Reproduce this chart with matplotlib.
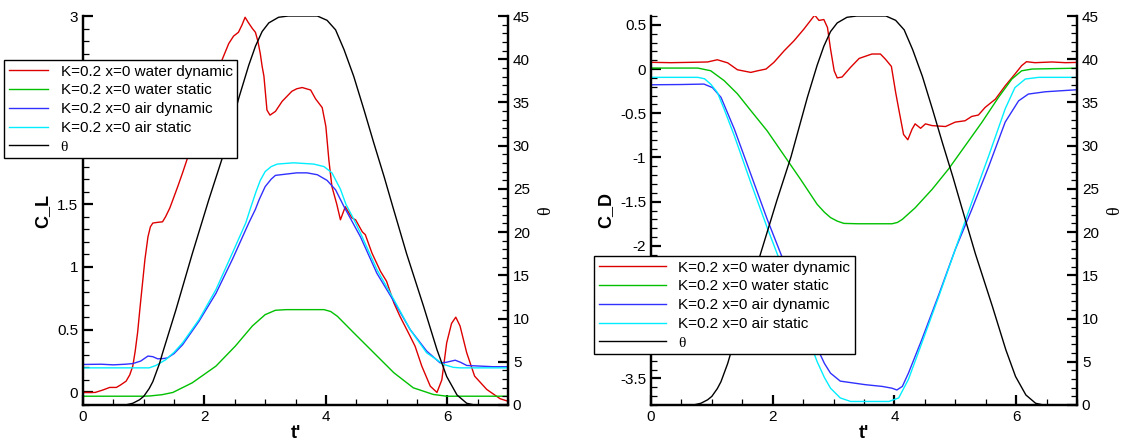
import numpy as np
import matplotlib
matplotlib.use("Agg")
import matplotlib.pyplot as plt
from matplotlib.ticker import MultipleLocator, FuncFormatter

# ==========================================
# DATA
# ==========================================

labels = [
    "K=0.2 x=0 water dynamic",
    "K=0.2 x=0 water static",
    "K=0.2 x=0 air dynamic",
    "K=0.2 x=0 air static",
    "\u03b8",
]

# theta (same motion in both panels)
t_theta = [0, 0.7, 0.82, 0.93, 1.0, 1.09, 1.15, 1.26, 1.31, 1.53, 1.80, 2.07,
           2.30, 2.57, 2.73, 2.84, 2.95, 3.06, 3.22, 3.38, 3.86, 4.02, 4.16,
           4.30, 4.46, 4.63, 4.79, 4.96, 5.10, 5.33, 5.61, 5.83, 5.99, 6.16,
           6.32, 6.45, 7.0]
theta = [0, 0, 0.2, 0.6, 1.0, 1.9, 2.7, 4.8, 6.0, 11.0, 17.5, 23.7,
         28.7, 35.6, 39.3, 41.5, 43.2, 44.2, 44.85, 45, 45, 44.5, 43.4,
         41.1, 38.0, 34.1, 30.3, 26.4, 23.0, 17.5, 11.4, 6.4, 3.3, 1.16,
         0.2, 0, 0]

# C_L water dynamic
t_cl_wd = [0, 0.2, 0.33, 0.44, 0.55, 0.62, 0.71, 0.77, 0.82, 0.86, 0.9, 0.94,
           0.98, 1.02, 1.07, 1.11, 1.15, 1.22, 1.31, 1.36, 1.43, 1.48, 1.56,
           1.64, 1.75, 2.0, 2.29, 2.40, 2.48, 2.56, 2.62, 2.67, 2.72, 2.79,
           2.84, 2.88, 2.92, 2.95, 2.98, 3.03, 3.08, 3.17, 3.28, 3.44, 3.52,
           3.61, 3.75, 3.83, 3.94, 4.0, 4.05, 4.10, 4.18, 4.24, 4.32, 4.43,
           4.49, 4.60, 4.65, 4.76, 4.90, 5.0, 5.12, 5.22, 5.36, 5.47, 5.58,
           5.72, 5.83, 5.91, 5.99, 6.07, 6.14, 6.21, 6.32, 6.45, 6.65, 6.87,
           7.0]
cl_wd = [0.0, 0.0, 0.02, 0.04, 0.04, 0.06, 0.09, 0.14, 0.21, 0.33, 0.48, 0.68,
         0.87, 1.06, 1.24, 1.32, 1.35, 1.355, 1.36, 1.40, 1.47, 1.535, 1.64,
         1.75, 1.91, 2.22, 2.65, 2.78, 2.84, 2.87, 2.93, 2.99, 2.95, 2.90,
         2.87, 2.80, 2.70, 2.60, 2.52, 2.25, 2.21, 2.24, 2.32, 2.40, 2.42,
         2.43, 2.41, 2.34, 2.27, 2.12, 1.85, 1.64, 1.50, 1.376, 1.48, 1.39,
         1.376, 1.28, 1.257, 1.11, 0.965, 0.886, 0.714, 0.607, 0.475, 0.368, 0.21,
         0.05, 0.0, 0.10, 0.395, 0.55, 0.60, 0.53, 0.316, 0.13, 0.024, -0.05,
         -0.07]

# C_L water static
t_cl_ws = [0, 0.98, 1.1, 1.3, 1.48, 1.8, 2.19, 2.51, 2.79, 3.0, 3.17, 3.35,
           3.97, 4.08, 4.19, 4.46, 4.79, 5.12, 5.44, 5.77, 5.99, 7.0]
cl_ws = [-0.03, -0.03, -0.028, -0.018, 0.0, 0.077, 0.21, 0.37, 0.53, 0.62, 0.655, 0.66,
         0.66, 0.645, 0.607, 0.475, 0.316, 0.157, 0.037, -0.016, -0.03, -0.03]

# C_L air dynamic
t_cl_ad = [0, 0.3, 0.5, 0.7, 0.82, 0.95, 1.07, 1.15, 1.23, 1.32, 1.39, 1.5,
           1.64, 1.91, 2.19, 2.46, 2.73, 2.84, 2.9, 3.0, 3.1, 3.17, 3.52,
           3.69, 3.86, 4.02, 4.16, 4.30, 4.57, 4.84, 5.12, 5.39, 5.66, 5.88,
           5.98, 6.13, 6.22, 6.32, 6.76, 7.0]
cl_ad = [0.223, 0.225, 0.22, 0.225, 0.23, 0.25, 0.29, 0.285, 0.268, 0.27, 0.275, 0.31,
         0.38, 0.567, 0.79, 1.06, 1.35, 1.46, 1.535, 1.64, 1.70, 1.73, 1.75,
         1.75, 1.735, 1.69, 1.615, 1.48, 1.24, 0.95, 0.726, 0.50, 0.33, 0.236,
         0.24, 0.257, 0.24, 0.215, 0.205, 0.205]

# C_L air static
t_cl_as = [0, 1.09, 1.2, 1.36, 1.5, 1.64, 1.91, 2.19, 2.46, 2.68, 2.76, 2.85,
           2.92, 3.0, 3.1, 3.2, 3.47, 3.8, 3.97, 4.10, 4.24, 4.33, 4.45, 4.57,
           4.84, 5.12, 5.39, 5.66, 5.94, 6.1, 6.21, 7.0]
cl_as = [0.196, 0.196, 0.215, 0.26, 0.32, 0.395, 0.58, 0.82, 1.11, 1.35, 1.47, 1.60,
         1.69, 1.76, 1.80, 1.82, 1.83, 1.82, 1.80, 1.75, 1.62, 1.50, 1.39, 1.27,
         0.98, 0.74, 0.50, 0.316, 0.223, 0.20, 0.196, 0.196]

# C_D water dynamic
t_cd_wd = [0, 0.33, 0.66, 0.93, 1.09, 1.26, 1.42, 1.64, 1.75, 1.89, 2.02, 2.19,
           2.35, 2.51, 2.62, 2.69, 2.76, 2.84, 2.90, 2.95, 3.01, 3.06, 3.14,
           3.28, 3.42, 3.52, 3.63, 3.77, 3.85, 3.95, 4.02, 4.07, 4.15, 4.22,
           4.29, 4.34, 4.43, 4.51, 4.62, 4.84, 5.0, 5.16, 5.27, 5.38, 5.49,
           5.66, 5.82, 5.98, 6.09, 6.17, 6.31, 6.59, 6.81, 7.0]
cd_wd = [0.076, 0.072, 0.076, 0.08, 0.105, 0.07, -0.008, -0.038, -0.02, 0.0, 0.076, 0.208,
         0.32, 0.45, 0.548, 0.61, 0.55, 0.56, 0.47, 0.227, -0.02, -0.1, -0.09,
         0.02, 0.12, 0.144, 0.17, 0.17, 0.113, 0.03, -0.264, -0.45, -0.74, -0.80,
         -0.68, -0.62, -0.67, -0.62, -0.64, -0.65, -0.6, -0.585, -0.536, -0.52, -0.434,
         -0.34, -0.19, -0.057, 0.038, 0.083, 0.072, 0.08, 0.072, 0.075]

# C_D water static
t_cd_ws = [0, 0.77, 0.98, 1.2, 1.42, 1.64, 1.91, 2.19, 2.46, 2.73, 2.85, 2.95,
           3.06, 3.17, 3.4, 3.96, 4.05, 4.13, 4.34, 4.62, 4.89, 5.16, 5.44,
           5.71, 5.93, 6.09, 6.26, 7.0]
cd_ws = [0.011, 0.011, -0.019, -0.13, -0.28, -0.47, -0.70, -0.98, -1.25, -1.53, -1.62, -1.68,
         -1.72, -1.746, -1.75, -1.75, -1.735, -1.70, -1.57, -1.36, -1.13, -0.87, -0.60,
         -0.32, -0.113, -0.02, 0.0, 0.01]

# C_D air dynamic
t_cd_ad = [0, 0.5, 0.87, 1.01, 1.15, 1.37, 1.64, 1.91, 2.19, 2.46, 2.73, 2.85,
           2.95, 3.11, 3.52, 3.80, 3.96, 4.04, 4.13, 4.23, 4.45, 4.73, 5.0,
           5.27, 5.55, 5.82, 6.04, 6.2, 6.48, 7.0]
cd_ad = [-0.178, -0.175, -0.17, -0.21, -0.32, -0.68, -1.19, -1.70, -2.19, -2.68, -3.155, -3.33,
         -3.44, -3.53, -3.57, -3.59, -3.61, -3.63, -3.59, -3.44, -3.06, -2.55, -2.04,
         -1.59, -1.10, -0.60, -0.36, -0.283, -0.257, -0.234]

# C_D air static
t_cd_as = [0, 0.77, 0.88, 0.98, 1.09, 1.2, 1.37, 1.64, 1.91, 2.19, 2.46, 2.73,
           2.85, 2.95, 3.11, 3.28, 3.91, 4.07, 4.23, 4.45, 4.73, 5.0, 5.27,
           5.55, 5.82, 5.98, 6.15, 6.37, 7.0]
cd_as = [-0.094, -0.094, -0.11, -0.17, -0.264, -0.45, -0.756, -1.285, -1.795, -2.30, -2.815, -3.31,
         -3.49, -3.61, -3.72, -3.76, -3.76, -3.72, -3.51, -3.10, -2.57, -2.04, -1.51,
         -0.98, -0.45, -0.21, -0.113, -0.094, -0.094]

colors = ["#dd0000", "#00c000", "#3030ff", "#00eeff", "black"]

# tick labels that sit behind the legends in the reference
hidden_cl = [2.0, 2.5]
hidden_cd = [-2.5, -3.0]

# ==========================================
# STYLE
# ==========================================

plt.rcParams["font.family"] = ["Liberation Sans", "DejaVu Sans"]
plt.rcParams["font.size"] = 11

LW = 1.0

fig = plt.figure(figsize=(11.23, 4.41), dpi=100)

W, H = 1123.0, 441.0


def make_axes(x0, x1):
    ax = fig.add_axes([x0 / W, 1 - 405 / H, (x1 - x0) / W, (405 - 16) / H])
    return ax


def num_fmt(hidden):
    def f(v, p):
        if any(abs(v - h) < 1e-6 for h in hidden):
            return ""
        return f"{v:g}"
    return FuncFormatter(f)


def style_axes(ax, ax2):
    for a in (ax, ax2):
        a.spines["top"].set_visible(False)
        for s in ("left", "right", "bottom"):
            a.spines[s].set_linewidth(1.6)
        a.tick_params(which="major", direction="in", length=7, width=1.6,
                      labelsize=11)
        a.tick_params(which="minor", direction="in", length=4, width=0.9)
    ax.tick_params(axis="x", which="both", top=False)
    ax2.tick_params(axis="x", which="both", top=False, bottom=False)
    ax.xaxis.set_major_locator(MultipleLocator(2))
    ax.xaxis.set_minor_locator(MultipleLocator(0.5))
    ax2.yaxis.set_major_locator(MultipleLocator(5))
    ax2.yaxis.set_minor_locator(MultipleLocator(1))
    ax.xaxis.set_major_formatter(num_fmt([]))
    ax2.yaxis.set_major_formatter(num_fmt([]))
    ax.set_xlim(0, 7)
    ax2.set_ylim(0, 45)
    ax.set_xlabel("t'", fontsize=13, fontweight="bold", labelpad=1)
    ax2.set_ylabel("\u03b8", fontsize=13, family="Liberation Serif", labelpad=5)


# ==========================================
# LEFT PANEL: C_L
# ==========================================

ax_l = make_axes(83, 508)
ax_l2 = ax_l.twinx()

h1 = []
for tt, yy, c in zip([t_cl_wd, t_cl_ws, t_cl_ad, t_cl_as],
                     [cl_wd, cl_ws, cl_ad, cl_as], colors[:4]):
    ln, = ax_l.plot(tt, yy, color=c, lw=LW)
    h1.append(ln)
ln, = ax_l2.plot(t_theta, theta, color="black", lw=LW)
h1.append(ln)

style_axes(ax_l, ax_l2)
ax_l.set_ylim(-0.1, 3)
ax_l.yaxis.set_major_locator(MultipleLocator(0.5))
ax_l.yaxis.set_minor_locator(MultipleLocator(0.1))
ax_l.yaxis.set_major_formatter(num_fmt(hidden_cl))
ax_l.set_ylabel("C_L", fontsize=13, fontweight="bold", labelpad=4)

# ==========================================
# RIGHT PANEL: C_D
# ==========================================

ax_r = make_axes(651, 1077)
ax_r2 = ax_r.twinx()

h2 = []
for tt, yy, c in zip([t_cd_wd, t_cd_ws, t_cd_ad, t_cd_as],
                     [cd_wd, cd_ws, cd_ad, cd_as], colors[:4]):
    ln, = ax_r.plot(tt, yy, color=c, lw=LW)
    h2.append(ln)
ln, = ax_r2.plot(t_theta, theta, color="black", lw=LW)
h2.append(ln)

style_axes(ax_r, ax_r2)
ax_r.set_ylim(-3.8, 0.6)
ax_r.yaxis.set_major_locator(MultipleLocator(0.5))
ax_r.yaxis.set_minor_locator(MultipleLocator(0.1))
ax_r.yaxis.set_major_formatter(num_fmt(hidden_cd))
ax_r.set_ylabel("C_D", fontsize=13, fontweight="bold", labelpad=4)

# ==========================================
# LEGENDS
# ==========================================


def add_legend(handles, x0, y0, hlen):
    leg = fig.legend(handles, labels, loc="upper left",
                     bbox_to_anchor=(x0 / W, 1 - y0 / H),
                     bbox_transform=fig.transFigure,
                     fontsize=11, frameon=True, fancybox=False,
                     framealpha=1, edgecolor="black",
                     borderpad=0.3, borderaxespad=0,
                     labelspacing=0.32, handlelength=hlen,
                     handletextpad=0.8)
    leg.get_frame().set_linewidth(1.0)
    leg.get_texts()[4].set_fontfamily("Liberation Serif")
    leg.set_zorder(10)
    return leg


add_legend(h1, 4, 60, 2.6)
add_legend(h2, 594, 256, 4.4)

fig.savefig("out.png", dpi=100)
